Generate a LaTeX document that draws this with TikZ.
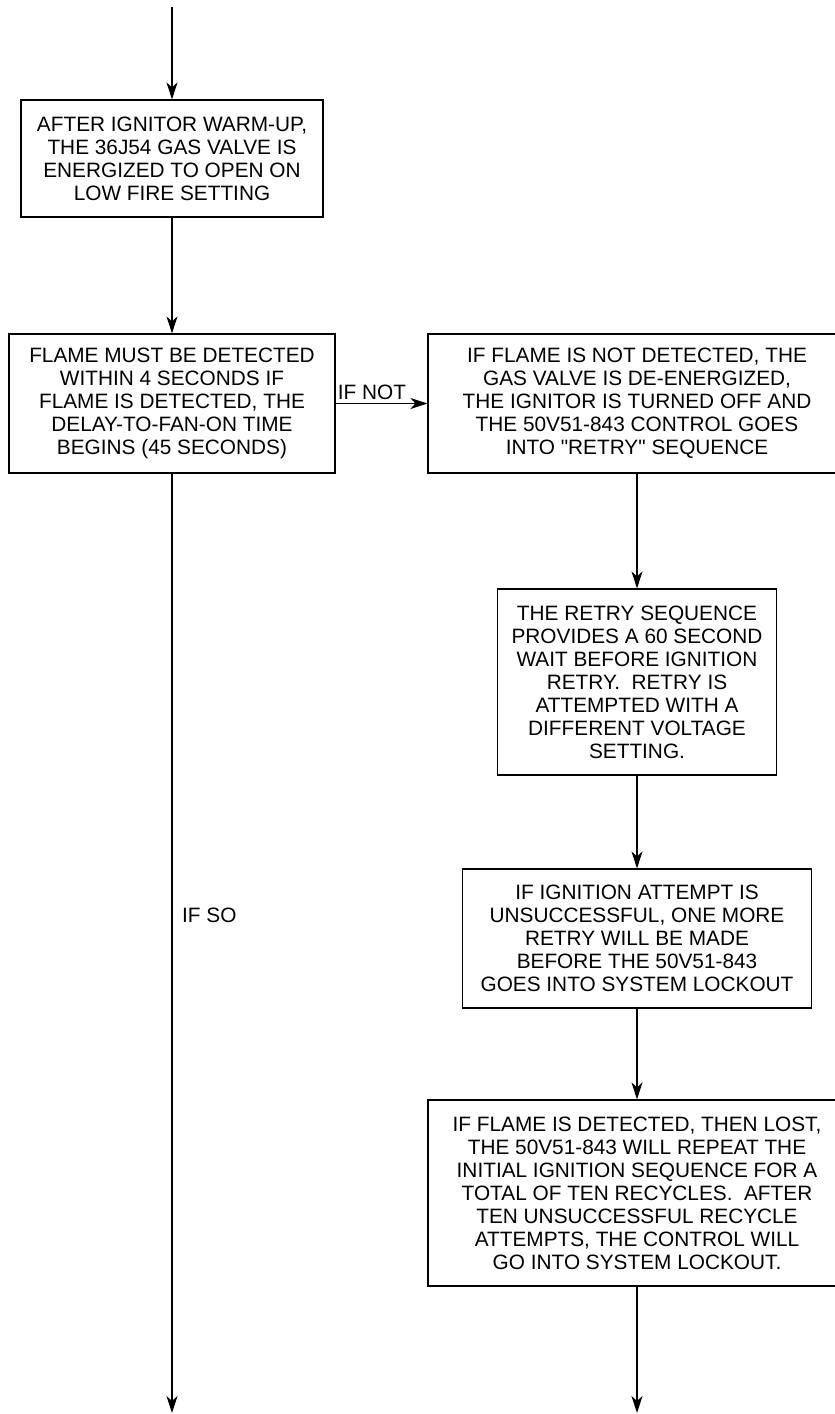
\documentclass[tikz,border=0pt]{standalone}
\usepackage{fontspec}
\setmainfont{Liberation Sans}[Ligatures=TeXOff]
\usetikzlibrary{arrows.meta}
\begin{document}
\begin{tikzpicture}[x=1pt,y=-1pt,
  box/.style={draw,line width=1.2pt,rectangle,inner sep=0pt,align=center,
    font=\fontsize{20.8}{23}\selectfont},
  lbl/.style={inner sep=0pt,font=\fontsize{20.8}{23}\selectfont},
  flow/.style={line width=1.2pt,-{Stealth[length=17pt,width=11pt,inset=5pt]}}]
\clip (0,0) rectangle (835,1414);
\fill[white] (0,0) rectangle (835,1414);
\node[box,minimum width=302pt,minimum height=117pt] (b1) at (172,158.5)
  {AFTER IGNITOR WARM-UP,\\THE 36J54 GAS VALVE IS\\ENERGIZED TO OPEN ON\\LOW FIRE SETTING};
\node[box,minimum width=326pt,minimum height=139pt] (b2) at (172,403.5)
  {FLAME MUST BE DETECTED\\WITHIN 4 SECONDS IF\\FLAME IS DETECTED, THE\\DELAY-TO-FAN-ON TIME\\BEGINS (45 SECONDS)};
\node[box,minimum width=418pt,minimum height=139pt] (b3) at (637,403.5)
  {IF FLAME IS NOT DETECTED, THE\\GAS VALVE IS DE-ENERGIZED,\\THE IGNITOR IS TURNED OFF AND\\THE 50V51-843 CONTROL GOES\\INTO "RETRY" SEQUENCE};
\node[box,minimum width=279pt,minimum height=186pt] (b4) at (637,682)
  {THE RETRY SEQUENCE\\PROVIDES A 60 SECOND\\WAIT BEFORE IGNITION\\RETRY.\ \ RETRY IS\\ATTEMPTED WITH A\\DIFFERENT VOLTAGE\\SETTING.};
\node[box,minimum width=349pt,minimum height=139pt] (b5) at (637,938.5)
  {IF IGNITION ATTEMPT IS\\UNSUCCESSFUL, ONE MORE\\RETRY WILL BE MADE\\BEFORE THE 50V51-843\\GOES INTO SYSTEM LOCKOUT};
\node[box,minimum width=418pt,minimum height=186pt] (b6) at (637,1193)
  {IF FLAME IS DETECTED, THEN LOST,\\THE 50V51-843 WILL REPEAT THE\\INITIAL IGNITION SEQUENCE FOR A\\TOTAL OF TEN RECYCLES.\ \ AFTER\\TEN UNSUCCESSFUL RECYCLE\\ATTEMPTS, THE CONTROL WILL\\GO INTO SYSTEM LOCKOUT.};
\coordinate (start) at (172,7);
\coordinate (endL) at (172,1413);
\coordinate (endR) at (637,1413);
\draw[flow] (start) -- (b1.north);
\draw[flow] (b1.south) -- (b2.north);
\draw[flow] (b2.east) -- (b3.west);
\node[lbl,anchor=south west] (ifnot) at ([xshift=2pt,yshift=4pt]b2.east) {IF NOT};
\draw[flow] (b3.south) -- (b4.north);
\draw[flow] (b4.south) -- (b5.north);
\draw[flow] (b5.south) -- (b6.north);
\draw[flow] (b6.south) -- (endR);
\draw[flow] (b2.south) -- (endL);
\node[lbl,anchor=west] (ifso) at (182,915) {IF SO};
\end{tikzpicture}
\end{document}
